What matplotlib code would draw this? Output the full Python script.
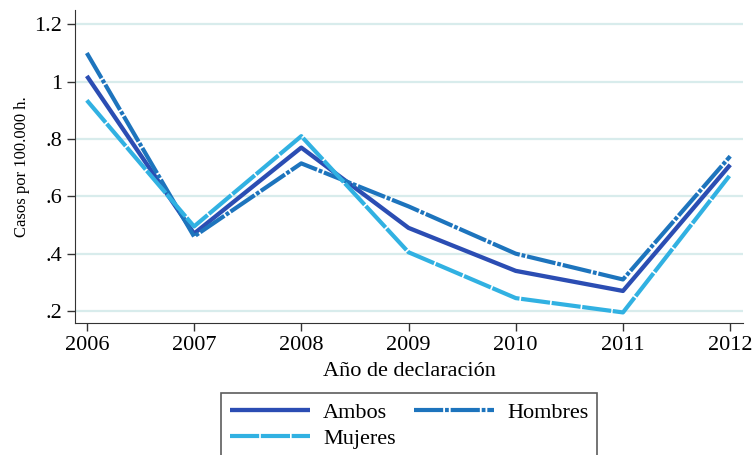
import matplotlib.pyplot as plt

plt.rcParams['font.family'] = ['Liberation Serif', 'DejaVu Serif']

years = [2006, 2007, 2008, 2009, 2010, 2011, 2012]
ambos = [1.02, 0.47, 0.77, 0.49, 0.34, 0.27, 0.71]
hombres = [1.10, 0.46, 0.715, 0.565, 0.40, 0.31, 0.74]
mujeres = [0.935, 0.495, 0.81, 0.405, 0.245, 0.195, 0.675]
yticks = [0.2, 0.4, 0.6, 0.8, 1.0, 1.2]
ylabels = ['.2', '.4', '.6', '.8', '1', '1.2']

fig = plt.figure(figsize=(7.54, 4.55), dpi=100)
ax = fig.add_axes([0.0995, 0.29, 0.886, 0.688])

l1, = ax.plot(years, ambos, color='#2b4db3', lw=3.1, solid_capstyle='butt', label='Ambos', zorder=3)
l2, = ax.plot(years, hombres, color='#1d74bd', lw=3.0, dashes=(7.0, 0.45, 0.9, 0.45),
              dash_capstyle='butt', label='Hombres', zorder=3)
l3, = ax.plot(years, mujeres, color='#31b1e2', lw=3.0, dashes=(7.0, 0.4),
              dash_capstyle='butt', label='Mujeres', zorder=3)

ax.set_xlim(2005.89, 2012.12)
ax.set_ylim(0.158, 1.25)
ax.set_xticks(years)
ax.set_yticks(yticks)
ax.set_yticklabels(ylabels)
ax.tick_params(labelsize=16, length=6, width=1, color='#333333')
ax.grid(axis='y', color='#d8ecec', lw=1.6, zorder=0)
ax.set_axisbelow(True)
for s in ['top', 'right']:
    ax.spines[s].set_visible(False)
for s in ['left', 'bottom']:
    ax.spines[s].set_color('#333333')
ax.set_xlabel('Año de declaración', fontsize=16, labelpad=5)
ax.set_ylabel('Casos por 100.000 h.', fontsize=12, labelpad=3)

leg = fig.legend([l1, l3, l2], ['Ambos', 'Mujeres', 'Hombres'],
                 loc='upper center', bbox_to_anchor=(0.5424, 0.136), ncol=2,
                 fontsize=16, handlelength=3.6, columnspacing=0.8, handletextpad=0.6,
                 frameon=True, fancybox=False, edgecolor='#333333', borderpad=0.4,
                 labelspacing=0.25, borderaxespad=0)
leg.get_frame().set_linewidth(1.2)

fig.savefig('out.png', dpi=100)
